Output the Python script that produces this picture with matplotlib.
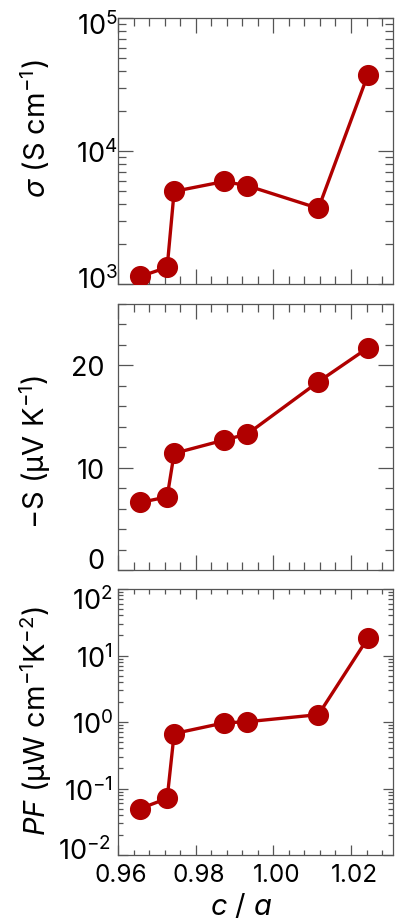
import matplotlib
matplotlib.use("Agg")
import numpy as np
import matplotlib.pyplot as plt
import matplotlib.transforms as mtransforms
from matplotlib.ticker import MultipleLocator, LogLocator, NullFormatter

FONT = 'Inter'
plt.rcParams['font.family'] = [FONT, 'Liberation Sans', 'DejaVu Sans']
plt.rcParams['mathtext.fontset'] = 'custom'
plt.rcParams['mathtext.rm'] = FONT
plt.rcParams['mathtext.it'] = FONT + ':italic'
plt.rcParams['mathtext.default'] = 'regular'

# data
c_over_a = [0.9657, 0.9726, 0.9744, 0.9873, 0.9933, 1.0116, 1.0243]
sigma = [1140, 1335, 4980, 5910, 5490, 3710, 37300]
neg_S = [6.6, 7.15, 11.4, 12.7, 13.3, 18.4, 21.7]
PF = [0.050, 0.071, 0.67, 0.97, 1.01, 1.29, 18.1]

W, H = 395, 920
fig = plt.figure(figsize=(W / 100, H / 100), dpi=100)

left = 118.3 / W
width = (392.5 - 118.3) / W

def box(top_px, bot_px):
    return [left, 1 - bot_px / H, width, (bot_px - top_px) / H]

ax1 = fig.add_axes(box(19.3, 285))
ax2 = fig.add_axes(box(305, 571))
ax3 = fig.add_axes(box(590, 856))

red = '#b00000'
spine_col = '#555555'
for ax, y in ((ax1, sigma), (ax2, neg_S), (ax3, PF)):
    ax.plot(c_over_a, y, '-o', color=red, lw=2.4, ms=14.2, mec=red, mfc=red, zorder=3)
    ax.set_xlim(0.96, 1.0307)
    ax.xaxis.set_major_locator(MultipleLocator(0.02))
    ax.xaxis.set_minor_locator(MultipleLocator(0.004))
    for s in ax.spines.values():
        s.set_color(spine_col)
        s.set_linewidth(0.9)

ax1.set_yscale('log')
ax1.set_ylim(1e3, 1e5)
ax3.set_yscale('log')
ax3.set_ylim(1e-2, 1e2)
for ax in (ax1, ax3):
    ax.yaxis.set_major_locator(LogLocator(base=10, numticks=10))
    ax.yaxis.set_minor_locator(LogLocator(base=10, subs=range(2, 10), numticks=20))
    ax.yaxis.set_minor_formatter(NullFormatter())

ax2.set_ylim(0, 26)
ax2.yaxis.set_major_locator(MultipleLocator(10))
ax2.yaxis.set_minor_locator(MultipleLocator(2))

for ax, maj, mnr, pad, ls in ((ax1, 11, 5.5, 0.3, 19.5), (ax2, 11, 5.5, 10, 19.5),
                              (ax3, 7.5, 3.5, 4, 19.5)):
    ax.tick_params(which='both', direction='in', top=True, right=True,
                   color=spine_col, width=0.9)
    ax.tick_params(axis='y', labelsize=ls)
    ax.tick_params(axis='x', labelsize=17.5)
    ax.tick_params(which='major', length=maj)
    ax.tick_params(which='minor', length=mnr)
    ax.tick_params(axis='y', which='both', pad=pad)
    ax.tick_params(axis='x', which='both', pad=5)

ax1.tick_params(labelbottom=False)
ax2.tick_params(labelbottom=False)

fig.canvas.draw()

def nudge(lab, dx_px, dy_px):
    off = mtransforms.ScaledTranslation(dx_px / 100, dy_px / 100, fig.dpi_scale_trans)
    lab.set_transform(lab.get_transform() + off)

def ylab(ax, val):
    for t in ax.yaxis.get_major_ticks():
        if np.isclose(t.get_loc(), val):
            return t.label1
    return None

for ax, val, dx, dy in ((ax1, 1e3, 0, 7), (ax1, 1e5, 0, -4), (ax2, 0, 0, 12),
                        (ax3, 1e2, 0, -9), (ax3, 1e-2, -2, 7)):
    lab = ylab(ax, val)
    if lab is not None:
        nudge(lab, dx, dy)
for t in ax3.xaxis.get_major_ticks():
    nudge(t.label1, 3, -1)

fs = 21
fig.text(35 / W, 1 - 129 / H, r'$\mathit{\sigma}$ (S cm$^{-1}$)', rotation=90,
         ha='center', va='center', fontsize=fs)
fig.text(35 / W, 1 - 452 / H, '\u2212S (\u00b5V K$^{-1}$)', rotation=90,
         ha='center', va='center', fontsize=fs)
fig.text(36 / W, 1 - 721 / H, r'$\mathit{PF}$ (µW cm$^{-1}$K$^{-2}$)', rotation=90,
         ha='center', va='center', fontsize=fs)
fig.text(241 / W, 1 - 907 / H, r'$\mathit{c}$ / $\mathit{a}$', ha='center', va='center',
         fontsize=fs)

fig.savefig('out.png', dpi=100)
